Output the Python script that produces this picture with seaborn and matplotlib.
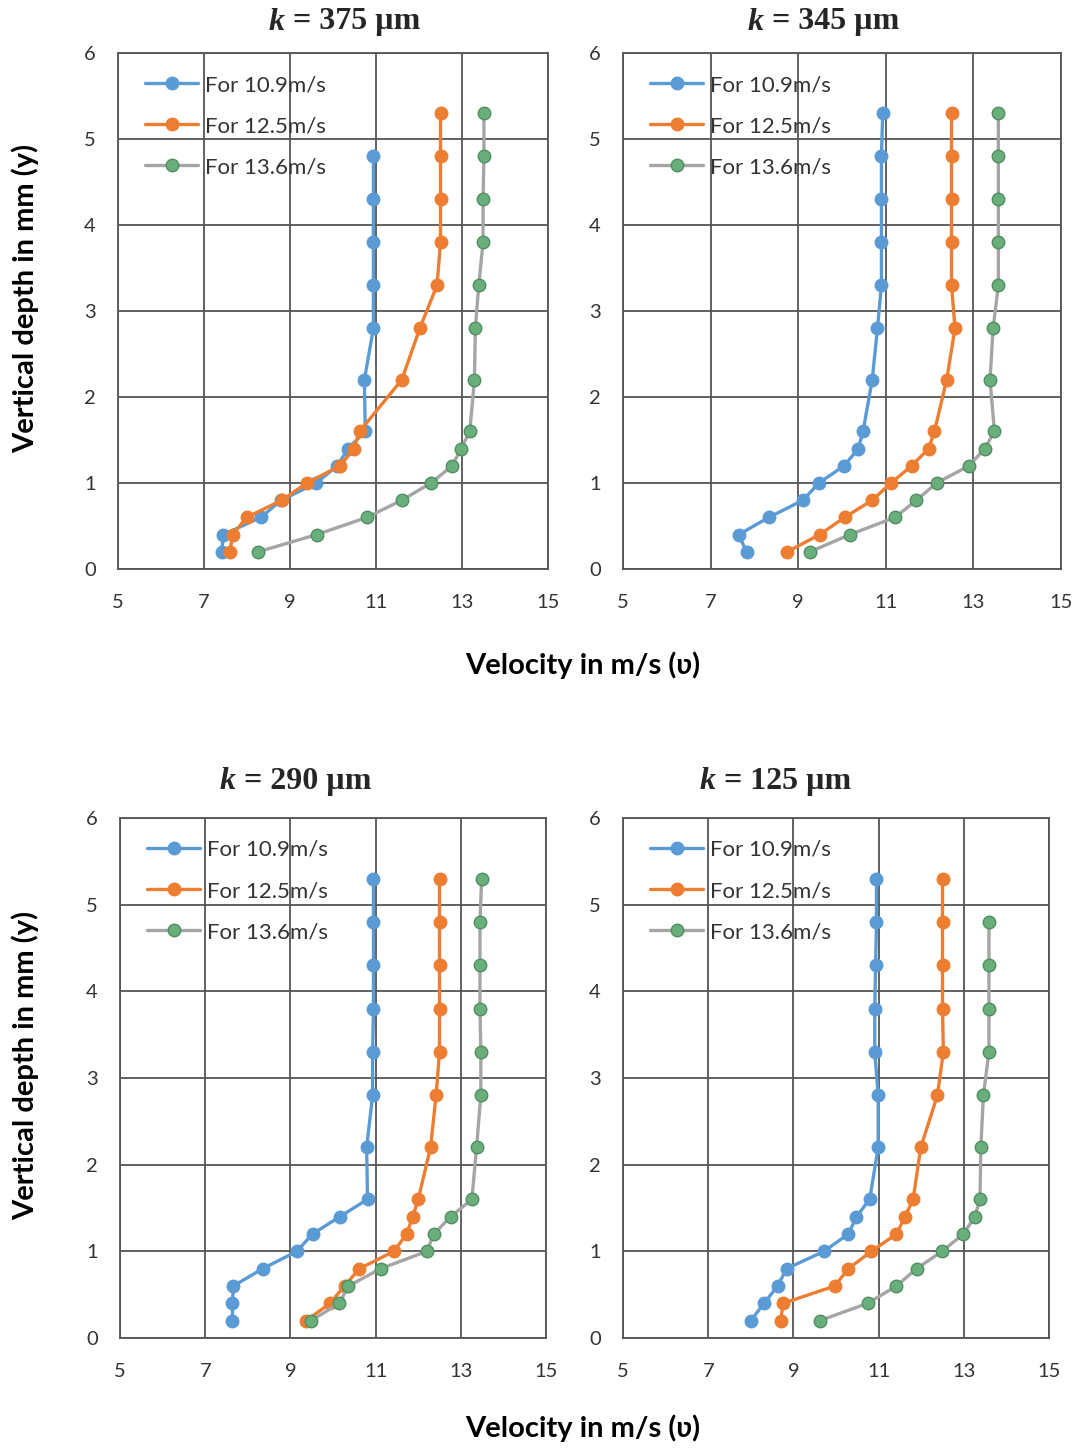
import numpy as np
import pandas as pd
import matplotlib
matplotlib.use("Agg")
import matplotlib.pyplot as plt
import seaborn as sns

# ---------------- data ----------------
depth = [0.2, 0.4, 0.6, 0.8, 1.0, 1.2, 1.4, 1.6, 2.2, 2.8, 3.3, 3.8, 4.3, 4.8, 5.3]
series_labels = ["For 10.9m/s", "For 12.5m/s", "For 13.6m/s"]
panel_titles = ["375", "345", "290", "125"]

# k = 375 um
k375_v109 = [7.41, 7.45, 8.32, 8.80, 9.61, 10.10, 10.35, 10.75, 10.73, 10.94, 10.94, 10.94, 10.94, 10.94]
k375_v125 = [7.60, 7.67, 7.99, 8.81, 9.39, 10.17, 10.48, 10.62, 11.60, 12.02, 12.42, 12.50, 12.50, 12.50, 12.50]
k375_v136 = [8.26, 9.62, 10.79, 11.60, 12.28, 12.77, 12.98, 13.18, 13.29, 13.31, 13.39, 13.49, 13.49, 13.51, 13.51]

# k = 345 um
k345_v109 = [7.82, 7.64, 8.33, 9.11, 9.47, 10.05, 10.37, 10.48, 10.69, 10.81, 10.90, 10.90, 10.90, 10.90, 10.93]
k345_v125 = [8.75, 9.49, 10.06, 10.69, 11.12, 11.59, 11.98, 12.11, 12.39, 12.58, 12.50, 12.50, 12.50, 12.50, 12.50]
k345_v136 = [9.27, 10.18, 11.21, 11.70, 12.16, 12.90, 13.26, 13.48, 13.38, 13.45, 13.57, 13.57, 13.57, 13.57, 13.57]

# k = 290 um
k290_v109 = [7.64, 7.64, 7.66, 8.35, 9.15, 9.52, 10.16, 10.81, 10.79, 10.93, 10.93, 10.95, 10.95, 10.95, 10.95]
k290_v125 = [9.37, 9.93, 10.27, 10.62, 11.43, 11.73, 11.87, 12.00, 12.29, 12.42, 12.50, 12.50, 12.50, 12.50, 12.50]
k290_v136 = [9.48, 10.15, 10.36, 11.12, 12.20, 12.37, 12.76, 13.26, 13.37, 13.47, 13.47, 13.45, 13.45, 13.45, 13.49]

# k = 125 um
k125_v109 = [8.00, 8.31, 8.63, 8.84, 9.72, 10.29, 10.48, 10.79, 10.99, 10.99, 10.91, 10.91, 10.93, 10.95, 10.95]
k125_v125 = [8.70, 8.76, 9.97, 10.29, 10.83, 11.42, 11.62, 11.81, 11.99, 12.38, 12.52, 12.50, 12.50, 12.50, 12.50]
k125_v136 = [9.62, 10.74, 11.42, 11.89, 12.49, 12.99, 13.26, 13.38, 13.40, 13.46, 13.59, 13.59, 13.59, 13.59]

panels = [
    [k375_v109, k375_v125, k375_v136],
    [k345_v109, k345_v125, k345_v136],
    [k290_v109, k290_v125, k290_v136],
    [k125_v109, k125_v125, k125_v136],
]

x_ticks = [5, 7, 9, 11, 13, 15]
y_ticks = [0, 1, 2, 3, 4, 5, 6]

# ---------------- style ----------------
sns.set_theme(style="white")
plt.rcParams["font.family"] = ["Lato", "DejaVu Sans"]

line_colors = ["#5B9BD5", "#ED7D31", "#A5A5A5"]
marker_face = ["#5B9BD5", "#ED7D31", "#6AAE7C"]
marker_edge = ["#5B9BD5", "#ED7D31", "#4F8F60"]

W, H = 1078, 1448
fig = plt.figure(figsize=(W / 100, H / 100), dpi=100)

# axes boxes in pixels: left, right, top, bottom
boxes = [
    (118, 548, 53, 569),
    (623, 1061, 53, 569),
    (120, 546, 818, 1338),
    (623, 1049, 818, 1338),
]
title_split = [(285, 22), (764, 22), (236, 781), (716, 781)]

for i, (box, series) in enumerate(zip(boxes, panels)):
    l, r, t, b = box
    ax = fig.add_axes([l / W, 1 - b / H, (r - l) / W, (b - t) / H])
    for j, vals in enumerate(series):
        df = pd.DataFrame({"v": vals, "y": depth[:len(vals)]})
        sns.lineplot(data=df, x="v", y="y", ax=ax, sort=False, estimator=None,
                     color=line_colors[j], linewidth=2.4, marker="o",
                     markersize=9, markerfacecolor=marker_face[j],
                     markeredgecolor=marker_edge[j], markeredgewidth=1.0,
                     label=series_labels[j])
    ax.set_xlim(5, 15)
    ax.set_ylim(0, 6)
    ax.set_xticks(x_ticks)
    ax.set_yticks(y_ticks)
    ax.grid(True, color="#555555", linewidth=1.3)
    for s in ax.spines.values():
        s.set_color("#555555")
        s.set_linewidth(1.3)
    ax.tick_params(axis="x", length=0, pad=18, labelsize=14.5, labelcolor="#333333")
    ax.tick_params(axis="y", length=0, pad=16, labelsize=14.5, labelcolor="#333333")
    ax.set_xlabel("")
    ax.set_ylabel("")
    leg = ax.legend(loc="upper left", frameon=False, fontsize=16,
                    handlelength=2.4, handletextpad=0.3, labelspacing=0.95,
                    borderaxespad=0.0, borderpad=0.0,
                    bbox_to_anchor=(27 / (r - l), 1 - 22 / (b - t)))
    for txt in leg.get_texts():
        txt.set_color("#333333")

    sx, sy = title_split[i]
    fig.text(sx / W, 1 - sy / H, "k", ha="right", va="center",
             family="Liberation Serif", weight="bold", style="italic", fontsize=23)
    fig.text(sx / W, 1 - sy / H, " = " + panel_titles[i] + " µm", ha="left", va="center",
             family="Liberation Serif", weight="bold", fontsize=23)

# axis labels
for yc in (298, 1065):
    fig.text(25 / W, 1 - yc / H, "Vertical depth in mm (y)", rotation=90,
             ha="center", va="center", fontsize=21, weight="bold", color="black")
for yc in (665, 1428):
    fig.text(583 / W, 1 - yc / H, "Velocity in m/s (ʋ)", ha="center", va="center",
             fontsize=21, weight="bold", color="black",
             family=["Lato", "DejaVu Sans"])

fig.savefig("out.png", dpi=100, facecolor="white")
